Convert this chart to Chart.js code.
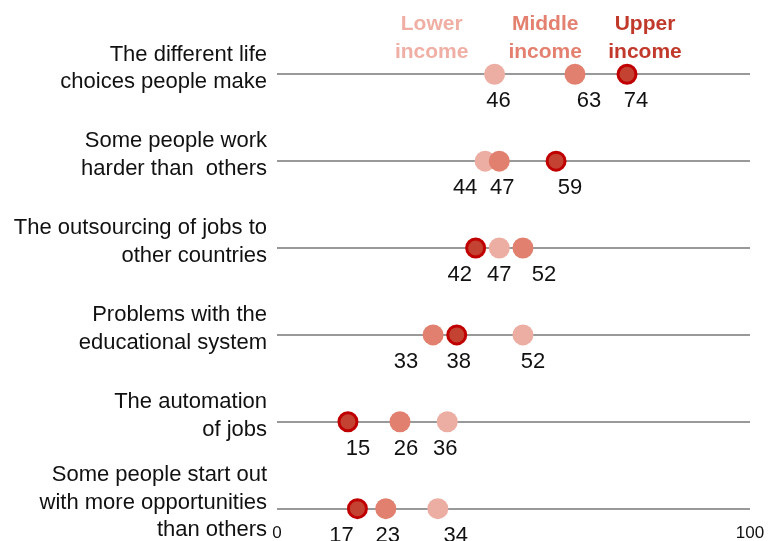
<!DOCTYPE html>
<html>
<head>
<meta charset="utf-8">
<script src="https://cdn.jsdelivr.net/npm/chart.js@4/dist/chart.umd.min.js"></script>
<style>
  html, body { margin: 0; padding: 0; background: #ffffff; }
  #wrap { width: 770px; height: 541px; position: relative; }
</style>
</head>
<body>
<div id="wrap"><canvas id="c"></canvas></div>
<script>
// ---- data ----
const categories = [
  ["The different life", "choices people make"],
  ["Some people work", "harder than  others"],
  ["The outsourcing of jobs to", "other countries"],
  ["Problems with the", "educational system"],
  ["The automation", "of jobs"],
  ["Some people start out", "with more opportunities", "than others"]
];
const seriesNames = [["Lower", "income"], ["Middle", "income"], ["Upper", "income"]];
const lowerIncome  = [46, 44, 47, 52, 36, 34];
const middleIncome = [63, 47, 52, 33, 26, 23];
const upperIncome  = [74, 59, 42, 38, 15, 17];
const xTickValues = [0, 100];

// ---- styling (not data) ----
const FONT = "'Liberation Sans', Arial, sans-serif";
const colLower = '#ECADA2', colMiddle = '#E1806F', colUpperFill = '#C44231', colUpperBorder = '#C00000';
const legendColors = ['#F0AFA4', '#E3806F', '#C0392B'];
const legendXValues = [32.7, 56.7, 77.8];      // horizontal anchor of header labels (axis units)
const labelNudge = [                             // px horizontal nudge for value labels
  [4, -20, 0, 10, -2, 18],    // lower
  [14, 3, 21, -27, 6, 2],     // middle
  [9, 14, -16, 2, 10, -16]    // upper
];

function pts(arr) { return arr.map((v, i) => ({ x: v, y: i })); }

const labelPlugin = {
  id: 'labels',
  afterDraw(chart) {
    const ctx = chart.ctx;
    const xs = chart.scales.x, ys = chart.scales.y;
    ctx.save();
    ctx.textBaseline = 'middle';
    // category labels (right aligned, left of the plot)
    ctx.font = '22px ' + FONT;
    ctx.fillStyle = '#111111';
    ctx.textAlign = 'right';
    const lh = 27.6;
    categories.forEach((lines, i) => {
      const cy = ys.getPixelForValue(i) - 6;
      const top = cy - (lines.length - 1) * lh / 2;
      lines.forEach((t, li) => ctx.fillText(t, chart.chartArea.left - 10, top + li * lh));
    });
    // value labels
    ctx.textAlign = 'center';
    chart.data.datasets.forEach((ds, di) => {
      const meta = chart.getDatasetMeta(di);
      meta.data.forEach((el, i) => {
        ctx.fillText(String(ds.data[i].x), el.x + labelNudge[ds.seriesIndex][i], el.y + 27);
      });
    });
    // header (legend) labels
    ctx.font = 'bold 21px ' + FONT;
    seriesNames.forEach((lines, si) => {
      ctx.fillStyle = legendColors[si];
      const px = xs.getPixelForValue(legendXValues[si]);
      const top = ys.getPixelForValue(0) - 50;
      lines.forEach((t, li) => ctx.fillText(t, px, top + li * 27.7));
    });
    ctx.restore();
  }
};

function zeroPad(s) { s.paddingTop = 0; s.paddingBottom = 0; s.paddingLeft = 0; s.paddingRight = 0; }

new Chart(document.getElementById('c'), {
  type: 'scatter',
  data: {
    datasets: [
      { label: 'Lower income', seriesIndex: 0, data: pts(lowerIncome), order: 3, clip: false,
        backgroundColor: colLower, borderWidth: 0, pointRadius: 10.5, pointHoverRadius: 10.5 },
      { label: 'Middle income', seriesIndex: 1, data: pts(middleIncome), order: 2, clip: false,
        backgroundColor: colMiddle, borderWidth: 0, pointRadius: 10.5, pointHoverRadius: 10.5 },
      { label: 'Upper income', seriesIndex: 2, data: pts(upperIncome), order: 1, clip: false,
        backgroundColor: colUpperFill, borderColor: colUpperBorder, borderWidth: 3,
        pointRadius: 9, pointHoverRadius: 9, pointBorderWidth: 3 }
    ]
  },
  options: {
    responsive: true,
    maintainAspectRatio: false,
    animation: false,
    layout: { padding: { top: 0, right: 20, bottom: 0, left: 0 } },
    plugins: { legend: { display: false }, tooltip: { enabled: false } },
    scales: {
      x: {
        type: 'linear', min: 0, max: 100, position: 'bottom',
        grid: { display: false, drawTicks: false },
        border: { display: false },
        afterBuildTicks: (s) => { s.ticks = xTickValues.map(v => ({ value: v })); },
        afterFit: (s) => { s.height = 28; zeroPad(s); },
        ticks: { padding: 10, color: '#111111', font: { family: FONT, size: 17 }, maxRotation: 0, autoSkip: false }
      },
      y: {
        type: 'linear', reverse: true, min: -0.717, max: 5.050,
        grid: { color: '#999999', lineWidth: 2, drawTicks: false },
        border: { display: false },
        afterBuildTicks: (s) => { s.ticks = categories.map((c, i) => ({ value: i })); },
        afterFit: (s) => { s.width = 277; zeroPad(s); },
        ticks: { display: false }
      }
    }
  },
  plugins: [labelPlugin]
});
</script>
</body>
</html>
